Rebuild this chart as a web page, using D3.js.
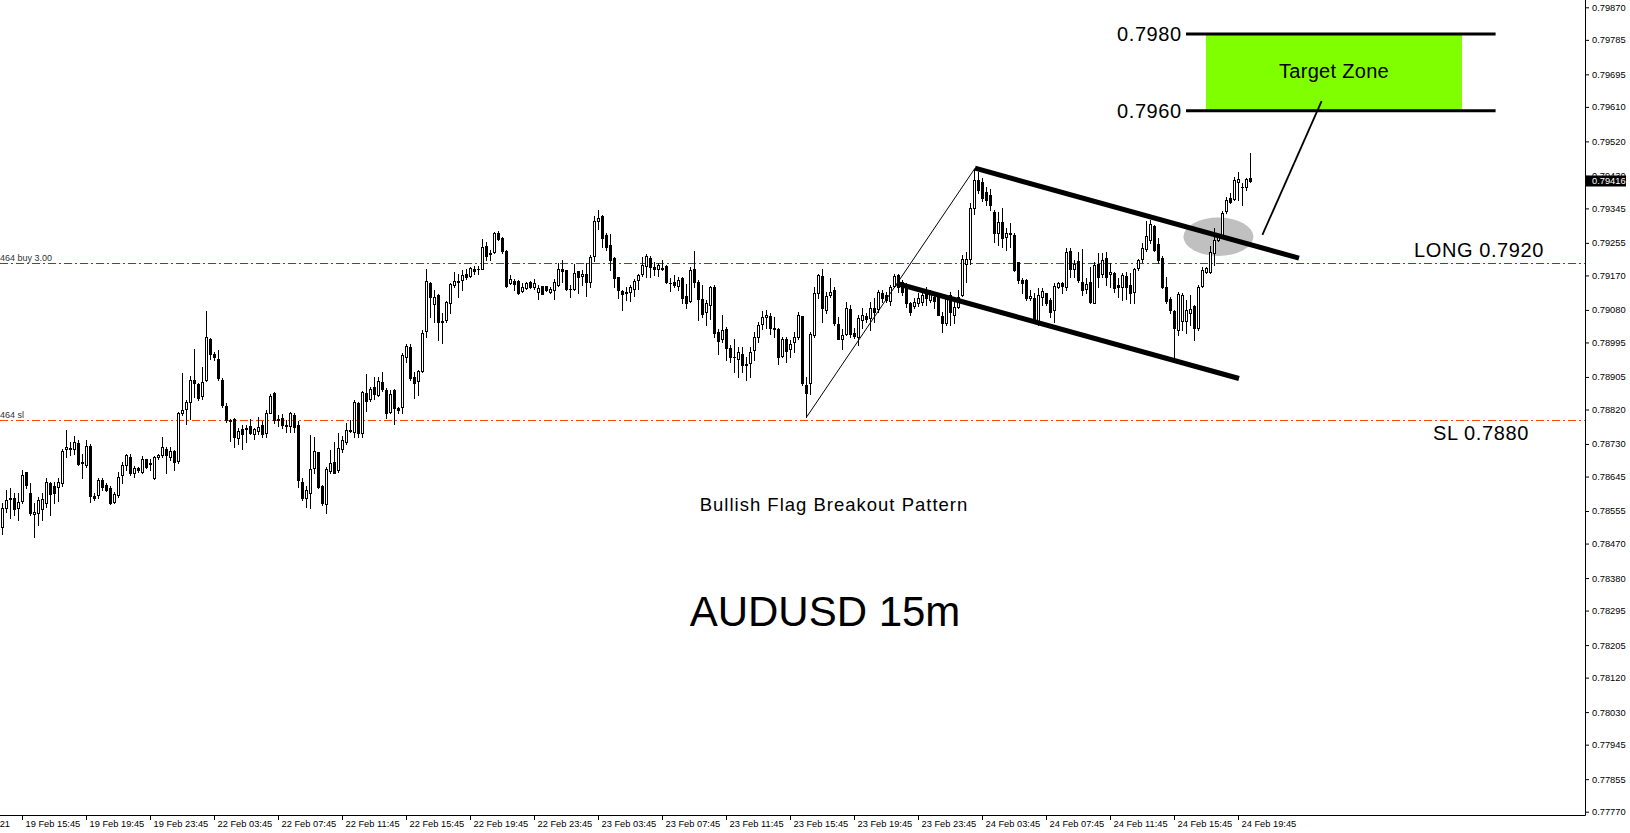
<!DOCTYPE html>
<html>
<head>
<meta charset="utf-8">
<script src="https://cdn.jsdelivr.net/npm/d3@7"></script>
<style>
  html, body { margin: 0; padding: 0; background: #fff; }
  svg { display: block; }
</style>
</head>
<body>
<div id="viz"></div>
<script>
// AUDUSD 15m candles, prices in points (1 point = 0.00001), first bar 19 Feb 14:30
const openPts = [
  78512,78564,78587,78590,78562,78582,78656,78601,78547,78549, 78559,78575,78627,78621,78617,78627,78718,78718,78716,78733,
  78683,78675,78726,78594,78596,78636,78622,78614,78579,78596, 78649,78674,78696,78653,78666,78658,78690,78680,78640,78696,
  78701,78718,78696,78712,78686,78811,78820,78840,78897,78886, 78855,78896,79005,78964,78953,78898,78829,78792,78796,78746,
  78770,78770,78776,78757,78763,78779,78759,78811,78862,78795, 78799,78780,78776,78805,78779,78632,78588,78603,78666,78708,
  78620,78573,78660,78682,78661,78716,78734,78763,78760,78836, 78758,78864,78847,78878,78858,78891,78871,78814,78871,78823,
  78826,78956,78984,78906,78894,78921,79024,79149,79095,79118, 79051,79054,79097,79144,79153,79158,79174,79169,79188,79187,
  79188,79248,79227,79230,79280,79269,79235,79149,79155,79156, 79130,79136,79154,79141,79128,79142,79142,79128,79132,79146,
  79187,79183,79135,79135,79181,79168,79175,79152,79222,79313, 79326,79275,79249,79215,79165,79129,79126,79128,79134,79158,
  79173,79195,79216,79193,79186,79190,79195,79150,79152,79143, 79163,79116,79104,79188,79152,79108,79075,79093,79141,79023,
  79005,79030,78981,78958,78953,78966,78940,78942,78975,79008, 79043,79062,79065,79033,79031,78959,79003,78978,78995,79008,
  79064,78885,78888,79014,79125,79168,79079,79120,79133,79043, 79003,79017,79082,79020,79010,79053,79064,79059,79084,79082,
  79123,79119,79103,79143,79171,79153,79145,79097,79091,79097, 79101,79127,79105,79114,79119,79065,79045,79119,79066,79088,
  79119,79201,79213,79345,79419,79415,79389,79380,79336,79280, 79310,79271,79282,79275,79206,79158,79158,79110,79110,79049,
  79114,79123,79106,79080,79141,79149,79141,79235,79186,79208, 79154,79134,79154,79099,79201,79174,79215,79173,79176,79146,
  79141,79169,79146,79128,79189,79213,79239,79263,79300,79253, 79215,79139,79108,79076,79028,79050,79050,79073,79089,79032,
  79143,79180,79178,79228,79263,79272,79337,79372,79369,79415, 79402,79400,79424
];
const highPts = [
  78575,78610,78614,78601,78601,78663,78657,78627,78575,78592, 78601,78640,78631,78631,78640,78718,78766,78736,78750,78740,
  78705,78740,78730,78601,78640,78640,78627,78621,78605,78657, 78683,78705,78705,78672,78670,78698,78692,78690,78698,78705,
  78749,78723,78723,78714,78814,78914,78846,78907,78979,78890, 78931,79077,79007,78970,78975,78901,78836,78796,78799,78773,
  78779,78779,78794,78773,78801,78790,78818,78860,78866,78805, 78808,78792,78814,78810,78790,78640,78619,78753,78749,78710,
  78623,78671,78714,78736,78758,78751,78784,78793,78845,78840, 78868,78913,78880,78906,78906,78919,78875,78871,78873,78826,
  78968,78991,78990,78919,78923,79028,79186,79154,79132,79121, 79071,79103,79151,79180,79175,79184,79186,79191,79195,79195,
  79264,79256,79236,79284,79287,79271,79236,79171,79160,79158, 79149,79154,79156,79160,79145,79143,79143,79141,79161,79202,
  79210,79184,79145,79200,79182,79184,79202,79223,79325,79341, 79328,79282,79278,79219,79167,79132,79141,79145,79160,79175,
  79219,79226,79221,79206,79202,79210,79196,79162,79171,79165, 79165,79147,79191,79234,79158,79145,79106,79142,79145,79029,
  79066,79036,78988,79005,78984,78982,78958,78984,79023,79049, 79078,79079,79071,79062,79033,79010,79008,79001,79023,79075,
  79065,78905,79023,79140,79175,79188,79127,79162,79139,79062, 79031,79101,79092,79032,79066,79084,79071,79101,79110,79132,
  79132,79127,79145,79175,79175,79158,79149,79101,79110,79123, 79132,79140,79132,79120,79123,79075,79114,79127,79101,79132,
  79223,79232,79358,79449,79440,79425,79400,79395,79341,79336, 79345,79293,79306,79280,79206,79162,79161,79132,79123,79136,
  79136,79125,79110,79149,79154,79154,79241,79241,79210,79232, 79238,79162,79193,79206,79229,79228,79230,79202,79180,79163,
  79176,79180,79176,79189,79213,79254,79311,79315,79302,79267, 79220,79167,79115,79080,79128,79124,79106,79119,79093,79146,
  79193,79193,79246,79293,79278,79337,79376,79385,79428,79441, 79411,79424,79489
];
const lowPts = [
  78496,78553,78536,78544,78531,78575,78614,78544,78488,78518, 78531,78566,78544,78575,78582,78620,78696,78701,78705,78674,
  78640,78670,78578,78583,78588,78610,78608,78573,78575,78592, 78629,78663,78649,78644,78657,78653,78668,78662,78639,78691,
  78696,78655,78688,78663,78681,78805,78781,78796,78853,78846, 78848,78895,78953,78949,78897,78827,78788,78738,78723,78730,
  78716,78734,78755,78743,78757,78749,78749,78810,78785,78776, 78773,78762,78762,78762,78618,78584,78566,78562,78653,78614,
  78571,78549,78653,78653,78658,78710,78730,78762,78747,78747, 78749,78817,78843,78847,78855,78867,78799,78812,78781,78812,
  78810,78945,78897,78849,78858,78919,79010,79062,79049,79001, 78994,79049,79071,79141,79115,79132,79160,79167,79175,79175,
  79186,79210,79209,79228,79262,79228,79141,79148,79132,79121, 79127,79134,79136,79134,79109,79121,79130,79123,79109,79143,
  79154,79132,79113,79132,79125,79145,79116,79141,79208,79290, 79245,79236,79184,79141,79112,79081,79106,79104,79117,79135,
  79168,79167,79167,79170,79168,79184,79151,79129,79141,79132, 79097,79084,79101,79141,79054,79062,79041,79055,79010,78966,
  78997,78949,78945,78918,78905,78918,78897,78905,78949,78997, 79029,79034,79018,79010,78940,78956,78945,78956,78971,79003,
  78884,78801,78860,79010,79110,79049,79073,79114,79040,79003, 78978,79014,79010,79007,78988,79032,79049,79027,79049,79075,
  79101,79101,79092,79139,79127,79120,79088,79068,79085,79091, 79092,79092,79101,79084,79066,79023,79040,79040,79045,79084,
  79116,79153,79200,79330,79385,79365,79355,79340,79258,79249, 79245,79236,79245,79182,79149,79123,79106,79106,79045,79040,
  79093,79093,79062,79049,79136,79123,79132,79167,79167,79154, 79119,79123,79099,79097,79141,79167,79146,79141,79128,79115,
  79106,79108,79098,79098,79185,79206,79233,79254,79233,79202, 79137,79098,79072,78950,79015,79028,79019,79041,79002,79028,
  79141,79176,79176,79198,79259,79267,79334,79359,79367,79367, 79354,79394,79414
];
const closePts = [
  78562,78585,78590,78559,78579,78650,78622,78549,78552,78583, 78586,78632,78599,78601,78631,78712,78723,78719,78734,78679,
  78681,78726,78594,78590,78637,78618,78610,78575,78599,78644, 78676,78700,78653,78668,78662,78692,78670,78678,78696,78700,
  78723,78701,78712,78683,78810,78818,78840,78898,78888,78851, 78893,79009,78966,78957,78903,78831,78792,78789,78749,78764,
  78757,78773,78759,78768,78775,78757,78810,78855,78792,78792, 78779,78778,78810,78775,78636,78588,78610,78664,78711,78617,
  78577,78664,78680,78655,78720,78740,78767,78767,78840,78758, 78865,78843,78874,78860,78894,78873,78810,78861,78825,78819,
  78962,78986,78901,78890,78921,79019,79155,79115,79115,79049, 79048,79100,79147,79156,79156,79170,79167,79190,79182,79188,
  79243,79222,79229,79282,79265,79235,79143,79160,79148,79125, 79140,79149,79141,79149,79137,79122,79132,79135,79152,79188,
  79182,79135,79134,79176,79165,79173,79154,79217,79312,79320, 79269,79245,79210,79162,79132,79121,79123,79139,79156,79170,
  79198,79220,79191,79188,79197,79188,79154,79149,79145,79158, 79110,79099,79184,79154,79109,79069,79097,79141,79019,78999,
  79027,78981,78958,78957,78971,78936,78937,78971,79010,79040, 79062,79068,79034,79030,78958,79005,78973,78992,79010,79066,
  78888,78864,79016,79125,79171,79084,79116,79128,79046,79005, 79014,79084,79018,79012,79060,79068,79056,79085,79075,79127,
  79112,79105,79140,79169,79140,79127,79097,79075,79101,79110, 79120,79112,79123,79103,79068,79045,79108,79075,79088,79114,
  79214,79213,79345,79420,79393,79371,79367,79354,79280,79310, 79267,79280,79277,79184,79158,79149,79110,79116,79054,79119,
  79129,79099,79075,79142,79149,79142,79232,79188,79199,79158, 79132,79147,79101,79197,79167,79210,79167,79179,79137,79140,
  79172,79141,79124,79186,79209,79241,79272,79304,79237,79209, 79141,79102,79080,79032,79122,79119,79079,79083,79032,79141,
  79185,79189,79231,79263,79273,79334,79367,79363,79420,79421, 79401,79422,79416
];

const priceTicks = [0.79870, 0.79785, 0.79695, 0.79610, 0.79520, 0.79430, 0.79345, 0.79255, 0.79170,
  0.79080, 0.78995, 0.78905, 0.78820, 0.78730, 0.78645, 0.78555, 0.78470, 0.78380, 0.78295,
  0.78205, 0.78120, 0.78030, 0.77945, 0.77855, 0.77770];
const timeTickLabels = ['19 Feb 15:45', '19 Feb 19:45', '19 Feb 23:45', '22 Feb 03:45', '22 Feb 07:45',
  '22 Feb 11:45', '22 Feb 15:45', '22 Feb 19:45', '22 Feb 23:45', '23 Feb 03:45', '23 Feb 07:45',
  '23 Feb 11:45', '23 Feb 15:45', '23 Feb 19:45', '23 Feb 23:45', '24 Feb 03:45', '24 Feb 07:45',
  '24 Feb 11:45', '24 Feb 15:45', '24 Feb 19:45'];
const firstDateLabel = '19 Feb 2021';
const lastPrice = 0.79416;

// horizontal order lines
const orderLines = [
  { price: 0.79202, color: '#008000', tag: '464 buy 3.00', label: 'LONG 0.7920' },
  { price: 0.78793, color: '#ff4500', tag: '464 sl', label: 'SL 0.7880' },
];
// target zone, bar positions (bar number from first candle) and prices
const targetZone = { top: 0.7980, bottom: 0.7960, from: 301, to: 365, lineFrom: 296, lineTo: 373.4 };
// trend lines: bar number / price at both ends
const trendLines = [
  { b0: 243.25, p0: 0.79450, b1: 324.25, p1: 0.79215, w: 5 },   // flag top
  { b0: 223.7, p0: 0.79149, b1: 309.25, p1: 0.78901, w: 5 },    // flag bottom
  { b0: 201.2, p0: 0.78801, b1: 243.25, p1: 0.79450, w: 1 },    // pole
  { b0: 329.9, p0: 0.79625, b1: 315.1, p1: 0.79276, w: 1.8 },   // pointer to zone
];
const breakoutMark = { b0: 295.35, b1: 312.85, p0: 0.79321, p1: 0.79221 };

const width = 1630, height = 833;
const plotRight = 1585, plotBottom = 815;

// bar times, market closed over the weekend
const parseTime = d3.timeParse('%Y-%m-%d %H:%M');
const fmtTime = d3.timeFormat('%d %b %H:%M');
const sessions = [['2021-02-19 14:30', '2021-02-20 00:00'], ['2021-02-22 00:00', '2021-02-25 00:00']];
const times = sessions
  .flatMap(([a, b]) => d3.timeMinute.every(15).range(parseTime(a), parseTime(b)))
  .slice(0, closePts.length);

const candles = closePts.map((c, i) => ({
  i,
  time: times[i],
  o: openPts[i] / 1e5,
  h: highPts[i] / 1e5,
  l: lowPts[i] / 1e5,
  c: c / 1e5,
}));

const x = d3.scaleLinear().domain([0, 395.75]).range([2, plotRight]);
const y = d3.scaleLinear().domain([0.77770, 0.79870]).range([811.7, 7.3]);

const svg = d3.select('#viz').append('svg')
  .attr('width', width)
  .attr('height', height)
  .style('font-family', '"Liberation Sans", Arial, sans-serif');

svg.append('rect').attr('width', width).attr('height', height).attr('fill', '#fff');
svg.append('defs').append('clipPath').attr('id', 'plotClip')
  .append('rect').attr('width', plotRight).attr('height', plotBottom);

const plot = svg.append('g').attr('clip-path', 'url(#plotClip)');

// target zone box and its border lines
plot.append('rect')
  .attr('x', x(targetZone.from))
  .attr('y', y(targetZone.top))
  .attr('width', x(targetZone.to) - x(targetZone.from))
  .attr('height', y(targetZone.bottom) - y(targetZone.top))
  .attr('fill', '#7fff00');
plot.selectAll('line.zoneLine')
  .data([targetZone.top, targetZone.bottom])
  .join('line')
  .attr('class', 'zoneLine')
  .attr('x1', x(targetZone.lineFrom))
  .attr('x2', x(targetZone.lineTo))
  .attr('y1', d => y(d))
  .attr('y2', d => y(d))
  .attr('stroke', '#000')
  .attr('stroke-width', 3);

// grey ellipse on the breakout
plot.append('ellipse')
  .attr('cx', (x(breakoutMark.b0) + x(breakoutMark.b1)) / 2)
  .attr('cy', (y(breakoutMark.p0) + y(breakoutMark.p1)) / 2)
  .attr('rx', (x(breakoutMark.b1) - x(breakoutMark.b0)) / 2)
  .attr('ry', (y(breakoutMark.p1) - y(breakoutMark.p0)) / 2)
  .attr('fill', '#c0c0c0');

// order lines
plot.selectAll('line.orderLine')
  .data(orderLines)
  .join('line')
  .attr('class', 'orderLine')
  .attr('x1', 0)
  .attr('x2', plotRight)
  .attr('y1', d => Math.round(y(d.price)) + 0.5)
  .attr('y2', d => Math.round(y(d.price)) + 0.5)
  .attr('stroke', d => d.color)
  .attr('stroke-dasharray', '8,3,2,3');
plot.selectAll('text.orderTag')
  .data(orderLines)
  .join('text')
  .attr('class', 'orderTag')
  .attr('x', 0)
  .attr('y', d => Math.round(y(d.price)) - 2)
  .attr('font-size', 9)
  .attr('fill', '#333')
  .text(d => d.tag);

// candles: wick, black body, white inside for up bars
const cx = d => Math.round(x(d.i));
const bodyTop = d => Math.round(y(Math.max(d.o, d.c)));
const bodyBot = d => Math.round(y(Math.min(d.o, d.c)));

plot.append('g').selectAll('rect')
  .data(candles)
  .join('rect')
  .attr('x', cx)
  .attr('y', d => Math.round(y(d.h)))
  .attr('width', 1)
  .attr('height', d => Math.round(y(d.l)) - Math.round(y(d.h)) + 1)
  .attr('fill', '#000');

plot.append('g').selectAll('rect')
  .data(candles)
  .join('rect')
  .attr('x', d => cx(d) - 1)
  .attr('y', bodyTop)
  .attr('width', 3)
  .attr('height', d => bodyBot(d) - bodyTop(d) + 1)
  .attr('fill', '#000');

plot.append('g').selectAll('rect')
  .data(candles.filter(d => d.c > d.o && bodyBot(d) - bodyTop(d) >= 2))
  .join('rect')
  .attr('x', cx)
  .attr('y', d => bodyTop(d) + 1)
  .attr('width', 1)
  .attr('height', d => bodyBot(d) - bodyTop(d) - 1)
  .attr('fill', '#fff');

// trend lines
plot.selectAll('line.trend')
  .data(trendLines)
  .join('line')
  .attr('class', 'trend')
  .attr('x1', d => x(d.b0))
  .attr('y1', d => y(d.p0))
  .attr('x2', d => x(d.b1))
  .attr('y2', d => y(d.p1))
  .attr('stroke', '#000')
  .attr('stroke-width', d => d.w);

// price axis
const yAxis = d3.axisRight(y)
  .tickValues(priceTicks)
  .tickSize(4)
  .tickPadding(3)
  .tickFormat(d3.format('.5f'));
const yAxisG = svg.append('g')
  .attr('transform', `translate(${plotRight},0)`)
  .call(yAxis);
yAxisG.select('.domain').remove();
yAxisG.selectAll('text')
  .attr('font-family', '"Liberation Sans", Arial, sans-serif')
  .attr('font-size', 9.3)
  .attr('fill', '#000');

// time axis
const fmtIndex = new Map(candles.map(d => [fmtTime(d.time), d.i]));
const xAxis = d3.axisBottom(x)
  .tickValues(timeTickLabels.map(t => fmtIndex.get(t)))
  .tickSize(5)
  .tickFormat(i => fmtTime(candles[i].time));
const xAxisG = svg.append('g')
  .attr('transform', `translate(0,${plotBottom})`)
  .call(xAxis);
xAxisG.select('.domain').remove();
xAxisG.selectAll('text')
  .attr('font-family', '"Liberation Sans", Arial, sans-serif')
  .attr('font-size', 9.3)
  .attr('fill', '#000')
  .attr('text-anchor', 'start')
  .attr('x', 3)
  .attr('y', 5);
svg.append('text')
  .attr('x', 10)
  .attr('y', plotBottom + 5)
  .attr('dy', '0.71em')
  .attr('text-anchor', 'end')
  .attr('font-size', 9.3)
  .text(firstDateLabel);

// frame
svg.append('path')
  .attr('d', `M${plotRight + 0.5},0V${plotBottom + 0.5}H0`)
  .attr('fill', 'none')
  .attr('stroke', '#000');

// last price marker
const lp = svg.append('g').attr('transform', `translate(${plotRight + 1},${Math.round(y(lastPrice))})`);
lp.append('rect').attr('x', 0).attr('y', -5.5).attr('width', 40).attr('height', 11).attr('fill', '#000');
lp.append('text')
  .attr('x', 6)
  .attr('dy', '0.35em')
  .attr('font-size', 9.3)
  .attr('fill', '#fff')
  .text(d3.format('.5f')(lastPrice));

// annotation texts
const notes = [
  { text: '0.7980', x: 1117, y: 41, size: 20, ls: 0.6, anchor: 'start' },
  { text: '0.7960', x: 1117, y: 118, size: 20, ls: 0.6, anchor: 'start' },
  { text: 'Target Zone', x: 1334, y: 78, size: 20, ls: 0.3, anchor: 'middle' },
  { text: orderLines[0].label, x: 1414, y: 257, size: 20, ls: 0.6, anchor: 'start' },
  { text: orderLines[1].label, x: 1433, y: 440, size: 20, ls: 0.6, anchor: 'start' },
  { text: 'Bullish Flag Breakout Pattern', x: 834, y: 511, size: 18.5, ls: 1, anchor: 'middle' },
  { text: 'AUDUSD 15m', x: 825, y: 626, size: 42, ls: 0, anchor: 'middle' },
];
svg.selectAll('text.note')
  .data(notes)
  .join('text')
  .attr('class', 'note')
  .attr('x', d => d.x)
  .attr('y', d => d.y)
  .attr('font-size', d => d.size)
  .attr('letter-spacing', d => d.ls)
  .attr('text-anchor', d => d.anchor)
  .attr('fill', '#000')
  .text(d => d.text);
</script>
</body>
</html>
